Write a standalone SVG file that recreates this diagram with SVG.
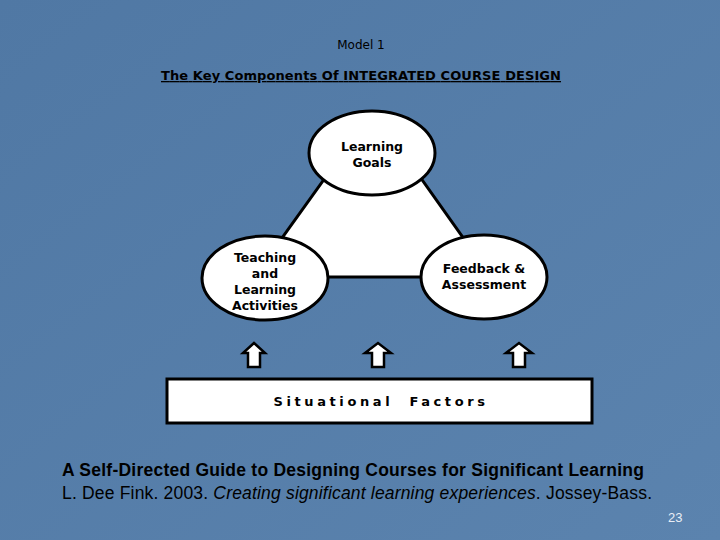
<svg xmlns="http://www.w3.org/2000/svg" width="720" height="540" viewBox="0 0 720 540">
<style>
.node ellipse{fill:#fff;stroke:#000;stroke-width:3}
.nt{font-family:"DejaVu Sans",sans-serif;font-weight:bold;font-size:12.5px;text-anchor:middle;fill:#000}
.arr{fill:#fff;stroke:#000;stroke-width:2.5}
.cap{font-family:"Liberation Sans",Arial,sans-serif;font-size:17.5px;fill:#000}
</style>
<defs><linearGradient id="bg" x1="0" y1="0" x2="1" y2="1"><stop offset="0" stop-color="#5078a4"/><stop offset="1" stop-color="#5b83ae"/></linearGradient></defs>
<rect width="720" height="540" fill="url(#bg)"/>
<text x="361" y="49" font-family="DejaVu Sans,sans-serif" font-size="12" text-anchor="middle" fill="#000">Model 1</text>
<text x="361" y="80" font-family="DejaVu Sans,sans-serif" font-size="13" font-weight="bold" text-anchor="middle" text-decoration="underline" fill="#000" textLength="400">The Key Components Of INTEGRATED COURSE DESIGN</text>
<g id="connectors">
<polygon points="343,153 403,153 491,277 254,277" fill="#fff" stroke="#000" stroke-width="3"/>
<polygon class="arr" points="248,367 260,367 260,353 265,353 254,343 243,353 248,353"/>
<polygon class="arr" points="372,367 384,367 384,353 391,353 378,343 365,353 372,353"/>
<polygon class="arr" points="513,367 525,367 525,353 532,353 519,343 506,353 513,353"/>
</g>
<g id="goals" class="node"><ellipse cx="372" cy="153" rx="63" ry="42"/><text class="nt" x="372" y="151">Learning</text><text class="nt" x="372" y="167">Goals</text></g>
<g id="teaching" class="node"><ellipse cx="265" cy="278" rx="63" ry="42"/><text class="nt" x="265" y="262">Teaching</text><text class="nt" x="265" y="278">and</text><text class="nt" x="265" y="294">Learning</text><text class="nt" x="265" y="310">Activities</text></g>
<g id="feedback" class="node"><ellipse cx="484" cy="277" rx="63" ry="42"/><text class="nt" x="484" y="273">Feedback &amp;</text><text class="nt" x="484" y="289">Assessment</text></g>
<g id="situational"><rect x="167" y="379" width="425" height="44" fill="#fff" stroke="#000" stroke-width="3"/><text x="381" y="406" font-family="DejaVu Sans,sans-serif" font-weight="bold" font-size="13" text-anchor="middle" letter-spacing="3.6" xml:space="preserve">Situational  Factors</text></g>
<text class="cap" x="62" y="476" font-weight="bold" textLength="582">A Self-Directed Guide to Designing Courses for Significant Learning</text>
<text class="cap" x="62" y="499" textLength="590">L. Dee Fink. 2003. <tspan font-style="italic">Creating significant learning experiences</tspan>. Jossey-Bass.</text>
<text x="668" y="522" font-family="Liberation Sans,sans-serif" font-size="13" fill="#e8eef6">23</text>
</svg>
